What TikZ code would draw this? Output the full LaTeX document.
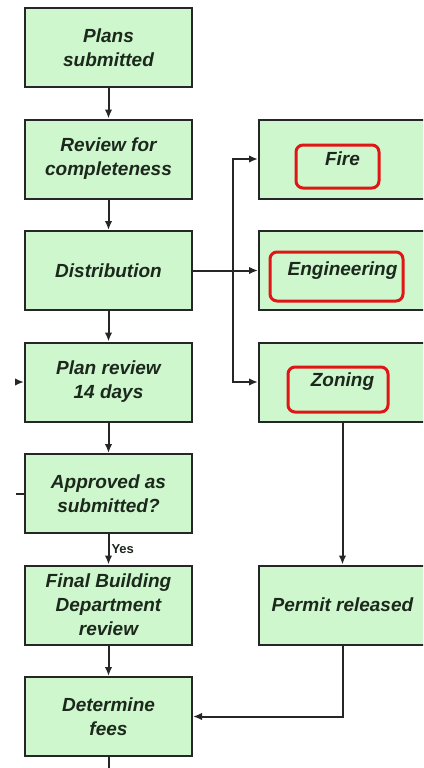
\documentclass[tikz,border=0pt]{standalone}
\usepackage{fontspec}
\setmainfont{Liberation Sans}
\usetikzlibrary{arrows.meta,positioning}
\tikzset{>={Latex[length=9pt,width=7.5pt]}}
\definecolor{boxgreen}{RGB}{206,247,206}
\definecolor{boxtext}{RGB}{28,40,28}
\definecolor{markred}{RGB}{224,22,22}
\tikzset{stepbox/.style = {draw=black!85, line width=2pt, fill=boxgreen,
    minimum width=167pt, minimum height=79pt, inner sep=0pt, align=center,
    text=boxtext, font=\fontsize{19}{24}\selectfont\bfseries\itshape}}
\tikzset{flow/.style = {->, line width=2pt, draw=black!85}}
\tikzset{ring/.style = {draw=markred, line width=3pt, rounded corners=7pt, inner sep=0pt}}
\tikzset{yeslabel/.style = {font=\fontsize{13}{14}\selectfont\bfseries, text=boxtext, inner sep=2pt}}

\begin{document}
\begin{tikzpicture}[x=1pt,y=-1pt, node distance=30.5pt]
\useasboundingbox (0,0) rectangle (423,768);
\clip (0,0) rectangle (423,768);

% main column
\node[stepbox] (plans) at (108.5,47.5) {Plans\\submitted};
\node[stepbox, below=of plans] (review) {Review for\\completeness};
\node[stepbox, below=of review] (dist) {Distribution};
\node[stepbox, below=of dist] (planrev) {Plan review\\14 days};
\node[stepbox, below=of planrev] (appr) {Approved as\\submitted?};
\node[stepbox, below=of appr] (final) {Final Building\\Department\\review};
\node[stepbox, below=of final] (fees) {Determine\\fees};

% departments
\node[stepbox, right=65pt of dist] (eng) {Engineering};
\node[stepbox, above=of eng] (fire) {Fire};
\node[stepbox, below=of eng] (zoning) {Zoning};
\node[stepbox, right=65pt of final] (permit) {Permit released};

% red marks
\node[ring, minimum width=83pt, minimum height=43pt] (fireR) at (337.5,166.5) {};
\node[ring, minimum width=133pt, minimum height=49pt] (engR) at (336.5,276.5) {};
\node[ring, minimum width=100pt, minimum height=45pt] (zoningR) at (338,389.5) {};

\draw[flow] (plans) -- (review);
\draw[flow] (review) -- (dist);
\draw[flow] (dist) -- (planrev);
\draw[flow] (planrev) -- (appr);
\draw[flow] (appr) -- node[yeslabel, right] {Yes} (final);
\draw[flow] (final) -- (fees);

% distribution split
\coordinate[right=40pt of dist.east] (split);
\draw[flow] (dist.east) -- (eng.west);
\draw[flow] (split) |- (fire.west);
\draw[flow] (split) |- (zoning.west);

\draw[flow] (zoning) -- (permit);
\draw[flow] (permit.south) |- (fees.east);

% loose ends
\coordinate[left=8pt of planrev.west] (backin);
\coordinate[left=8pt of appr.west] (noout);
\coordinate (down) at (fees.south |- 0,768);
\draw[flow] (backin) -- (planrev.west);
\draw[line width=2pt, black!85] (appr.west) -- (noout);
\draw[line width=2pt, black!85] (fees.south) -- (down);
\end{tikzpicture}
\end{document}
